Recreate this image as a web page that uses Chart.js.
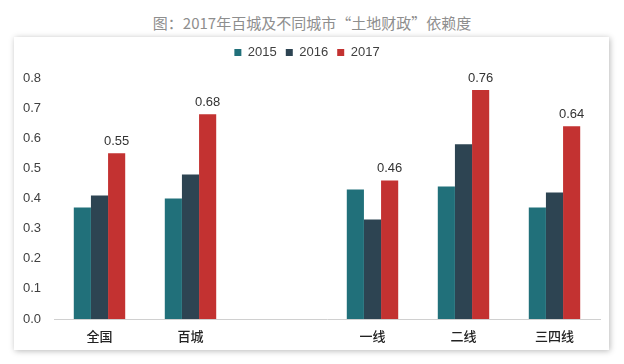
<!DOCTYPE html>
<html>
<head>
<meta charset="utf-8">
<script src="https://cdn.jsdelivr.net/npm/chart.js@4.4.1/dist/chart.umd.min.js"></script>
<style>
    body { margin: 0; background: #fff; width: 624px; height: 364px; position: relative; overflow: hidden; }
    #title {
        position: absolute; left: 0; top: 13px; width: 624px; text-align: center;
        font-family: "Noto Sans CJK SC", sans-serif; font-size: 15px; color: #8e8e8e; line-height: 20px;
    }
    #box {
        position: absolute; left: 14px; top: 37px; width: 595px; height: 313px;
        background: #fff; box-shadow: 1px 1px 6px rgba(0, 0, 0, 0.28);
    }
    canvas { display: block; }
</style>
</head>
<body>
<div id="title">图：2017年百城及不同城市“土地财政”依赖度</div>
<div id="box"><canvas id="landChart" width="595" height="313"></canvas></div>
<script>
// categories (empty slot between 百城 and 一线 as in the original)
var categories = ['全国', '百城', '', '一线', '二线', '三四线'];
var seriesNames = ['2015', '2016', '2017'];
var values2015 = [0.37, 0.40, null, 0.43, 0.44, 0.37];
var values2016 = [0.41, 0.48, null, 0.33, 0.58, 0.42];
var values2017 = [0.55, 0.68, null, 0.46, 0.76, 0.64];
var yTicks = [0.0, 0.1, 0.2, 0.3, 0.4, 0.5, 0.6, 0.7, 0.8];

var colors = ['#21707a', '#2d4452', '#c33231'];
var latin = '"Liberation Sans", Arial, sans-serif';

// value labels above the 2017 bars
var valueLabels = {
    id: 'valueLabels',
    afterDatasetsDraw: function (chart) {
        var ctx = chart.ctx;
        var meta = chart.getDatasetMeta(2);
        ctx.save();
        ctx.font = '13px ' + latin;
        ctx.fillStyle = '#333';
        ctx.textAlign = 'center';
        ctx.textBaseline = 'alphabetic';
        meta.data.forEach(function (bar, i) {
            var v = values2017[i];
            if (v === null) return;
            ctx.fillText(v.toFixed(2), bar.x, bar.y - 8);
        });
        ctx.restore();
    }
};

var ctx = document.getElementById('landChart').getContext('2d');
var landChart = new Chart(ctx, {
    type: 'bar',
    data: {
        labels: categories,
        datasets: [values2015, values2016, values2017].map(function (vals, i) {
            return {
                label: seriesNames[i],
                data: vals,
                backgroundColor: colors[i],
                borderWidth: 0,
                barPercentage: 1,
                categoryPercentage: 0.565
            };
        })
    },
    options: {
        responsive: false,
        animation: false,
        layout: { padding: { top: 0, right: 9, bottom: 0, left: 0 } },
        plugins: {
            legend: {
                position: 'top',
                labels: {
                    boxWidth: 7,
                    boxHeight: 7,
                    padding: 9,
                    color: '#404040',
                    font: { family: latin, size: 13 }
                }
            },
            // empty spacer between legend and plot
            subtitle: {
                display: true,
                text: '',
                weight: 100,
                padding: 0,
                font: { size: 9, lineHeight: 1 }
            },
            tooltip: { enabled: false }
        },
        scales: {
            x: {
                afterFit: function (scale) { scale.height = 31; },
                grid: { display: false, drawTicks: false },
                border: { color: '#d0d0d0', width: 1 },
                ticks: {
                    padding: 9,
                    color: '#222',
                    font: { family: '"Noto Sans CJK SC", sans-serif', size: 13, weight: 500 }
                }
            },
            y: {
                min: 0,
                max: 0.8,
                afterFit: function (scale) { scale.width = 40; },
                afterBuildTicks: function (scale) {
                    scale.ticks = yTicks.map(function (v) { return { value: v }; });
                },
                grid: { display: false, drawTicks: false },
                border: { display: false },
                ticks: {
                    padding: 13,
                    color: '#404040',
                    font: { family: latin, size: 13 },
                    callback: function (value) { return value.toFixed(1); }
                }
            }
        }
    },
    plugins: [valueLabels]
});
</script>
</body>
</html>
